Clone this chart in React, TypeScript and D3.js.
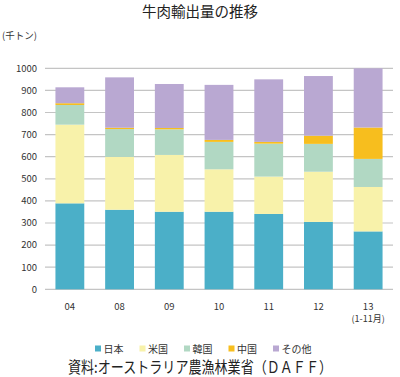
import React from "react";
import * as d3 from "d3";

const categories = ["04", "08", "09", "10", "11", "12", "13"];
const seriesNames = ["日本", "米国", "韓国", "中国", "その他"];
const japan = [389, 360, 351, 351, 341, 305, 262];
const usa = [356, 239, 257, 192, 169, 227, 201];
const korea = [89, 126, 116, 124, 149, 126, 127];
const china = [8, 6, 6, 9, 8, 37, 142];
const other = [72, 228, 199, 249, 283, 270, 268];
const yTicks = [0, 100, 200, 300, 400, 500, 600, 700, 800, 900, 1000];
const colors = ["#4BAFC8", "#F8F2AA", "#B1D8C3", "#F7BE1E", "#B9A8D2"];

const W = 400, H = 377;
const left = 45, right = 393, top = 68.3, bottom = 289.3;

export default function App() {
  const x = d3.scaleBand().domain(categories).range([left, right]).paddingInner(0.42).paddingOuter(0.21);
  const y = d3.scaleLinear().domain([0, 1000]).range([bottom, top]);
  const rows = categories.map((c, i) => ({
    cat: c,
    日本: japan[i], 米国: usa[i], 韓国: korea[i], 中国: china[i], その他: other[i],
  }));
  const stacked = d3.stack<any>().keys(seriesNames)(rows);
  const font = "'Noto Sans CJK JP', 'Noto Sans', sans-serif";
  const legendX = seriesNames.map((_, i) => 95 + 44.5 * i);
  return (
    <svg width={W} height={H} style={{ position: "absolute", left: 0, top: 0, background: "#fff" }} fontFamily={font}>
      <text x={200} y={17} textAnchor="middle" fontSize={14.5} fill="#222">牛肉輸出量の推移</text>
      <text x={2} y={39} fontSize={9.5} fill="#333">(千トン)</text>
      {yTicks.map(t => (
        <g key={t}>
          <line x1={left} x2={right} y1={y(t)} y2={y(t)} stroke="#C4C4C4" strokeWidth={1.2} />
          <text x={37} y={y(t)} dy="0.35em" textAnchor="end" fontSize={9.5} fill="#333">{t}</text>
        </g>
      ))}
      {stacked.map((s, si) => (
        <g key={s.key} fill={colors[si]}>
          {s.map((d, i) => (
            <rect key={i} x={x(categories[i])} width={x.bandwidth()} y={y(d[1])} height={y(d[0]) - y(d[1])} />
          ))}
        </g>
      ))}
      {categories.map(c => (
        <text key={c} x={(x(c) as number) + x.bandwidth() / 2} y={310} textAnchor="middle" fontSize={9.5} fill="#333">{c}</text>
      ))}
      <text x={(x("13") as number) + x.bandwidth() / 2} y={322} textAnchor="middle" fontSize={9} fill="#333">(1-11月)</text>
      {seriesNames.map((n, i) => (
        <g key={n}>
          <rect x={legendX[i]} y={345.5} width={6} height={6} fill={colors[i]} />
          <text x={legendX[i] + 8.5} y={352.5} fontSize={10} fill="#333">{n}</text>
        </g>
      ))}
      <text x={68} y={373} fontSize={15.5} fill="#222" textLength={264} lengthAdjust="spacingAndGlyphs">資料:オーストラリア農漁林業省（ＤＡＦＦ）</text>
    </svg>
  );
}
